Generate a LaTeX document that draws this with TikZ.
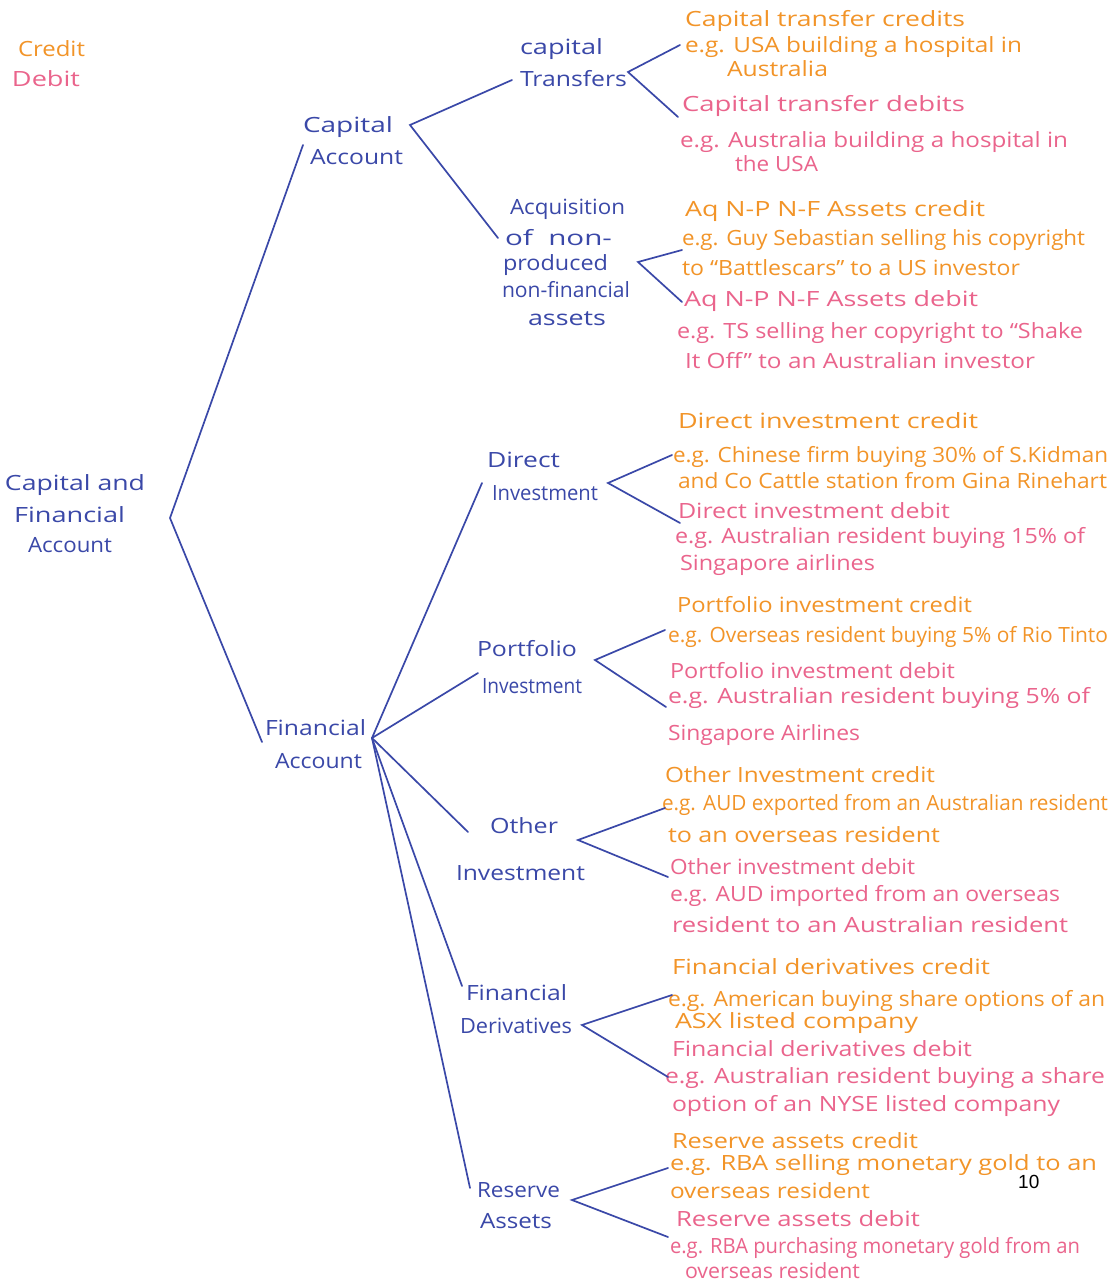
\documentclass[tikz,border=0pt]{standalone}
\usepackage{fontspec}
\usepackage{graphicx}
\setmainfont{Open Sans}
\definecolor{inkblue}{RGB}{58,72,168}
\definecolor{inkorange}{RGB}{242,148,40}
\definecolor{inkpink}{RGB}{234,100,140}
\newcommand\hw[2]{\resizebox{#1pt}{\height}{#2}}
\newcommand\lbl[6]{\node[txt,text=#4] (#1) at (#2,#3) {\hw{#5}{#6}};}
\tikzset{
  txt/.style={anchor=base west,inner sep=0pt,outer sep=0pt,font=\fontsize{21}{25}\selectfont},
  link/.style={draw=inkblue,line width=1.7pt,line cap=round}
}
\begin{document}
\begin{tikzpicture}[x=1pt,y=-1pt]
\useasboundingbox (0,0) rectangle (1113,1281);
\fill[white] (0,0) rectangle (1113,1281);
\clip (0,0) rectangle (1113,1281);
% legend
\lbl{lc}{18}{57}{inkorange}{67}{Credit}
\lbl{ld}{12}{87}{inkpink}{68}{Debit}
% blue labels
\lbl{cfa1}{5}{490}{inkblue}{140}{Capital and}
\lbl{cfa2}{14}{522}{inkblue}{111}{Financial}
\lbl{cfa3}{28}{552}{inkblue}{84}{Account}
\lbl{ca1}{303}{133}{inkblue}{90}{Capital}
\lbl{ca2}{310}{165}{inkblue}{93}{Account}
\lbl{fa1}{265}{735}{inkblue}{101}{Financial}
\lbl{fa2}{275}{768}{inkblue}{87}{Account}
\lbl{ct1}{520}{55}{inkblue}{83}{capital}
\lbl{ct2}{520}{87}{inkblue}{107}{Transfers}
\lbl{aq1}{510}{215}{inkblue}{115}{Acquisition}
\lbl{aq2}{505}{245}{inkblue}{107}{of\ \ non-}
\lbl{aq3}{503}{270}{inkblue}{105}{produced}
\lbl{aq4}{502}{297}{inkblue}{128}{non-financial}
\lbl{aq5}{528}{325}{inkblue}{78}{assets}
\lbl{di1}{487}{467}{inkblue}{73}{Direct}
\lbl{di2}{492}{500}{inkblue}{106}{Investment}
\lbl{pi1}{477}{656}{inkblue}{100}{Portfolio}
\lbl{pi2}{482}{693}{inkblue}{100}{Investment}
\lbl{oi1}{490}{833}{inkblue}{68}{Other}
\lbl{oi2}{456}{880}{inkblue}{129}{Investment}
\lbl{fd1}{466}{1000}{inkblue}{101}{Financial}
\lbl{fd2}{460}{1033}{inkblue}{112}{Derivatives}
\lbl{ra1}{477}{1197}{inkblue}{83}{Reserve}
\lbl{ra2}{480}{1228}{inkblue}{72}{Assets}
% right-hand texts
\lbl{t1}{685}{27}{inkorange}{280}{Capital transfer credits}
\lbl{t2}{685}{53}{inkorange}{337}{e.g. USA building a hospital in}
\lbl{t3}{727}{77}{inkorange}{101}{Australia}
\lbl{t4}{682}{112}{inkpink}{283}{Capital transfer debits}
\lbl{t5}{680}{148}{inkpink}{388}{e.g. Australia building a hospital in}
\lbl{t6}{735}{172}{inkpink}{83}{the USA}
\lbl{t7}{685}{217}{inkorange}{300}{Aq N-P N-F Assets credit}
\lbl{t8}{682}{245}{inkorange}{403}{e.g. Guy Sebastian selling his copyright}
\lbl{t9}{682}{275}{inkorange}{338}{to “Battlescars” to a US investor}
\lbl{t10}{684}{306}{inkpink}{294}{Aq N-P N-F Assets debit}
\lbl{t11}{677}{338}{inkpink}{406}{e.g. TS selling her copyright to “Shake}
\lbl{t12}{685}{368}{inkpink}{350}{It Off” to an Australian investor}
\lbl{t13}{678}{428}{inkorange}{300}{Direct investment credit}
\lbl{t14}{673}{462}{inkorange}{435}{e.g. Chinese firm buying 30\% of S.Kidman}
\lbl{t15}{678}{488}{inkorange}{429}{and Co Cattle station from Gina Rinehart}
\lbl{t16}{678}{518}{inkpink}{272}{Direct investment debit}
\lbl{t17}{675}{543}{inkpink}{410}{e.g. Australian resident buying 15\% of}
\lbl{t18}{680}{570}{inkpink}{195}{Singapore airlines}
\lbl{t19}{677}{612}{inkorange}{295}{Portfolio investment credit}
\lbl{t20}{668}{642}{inkorange}{440}{e.g. Overseas resident buying 5\% of Rio Tinto}
\lbl{t21}{670}{678}{inkpink}{285}{Portfolio investment debit}
\lbl{t22}{668}{703}{inkpink}{422}{e.g. Australian resident buying 5\% of}
\lbl{t23}{668}{740}{inkpink}{192}{Singapore Airlines}
\lbl{t24}{665}{782}{inkorange}{270}{Other Investment credit}
\lbl{t25}{662}{810}{inkorange}{446}{e.g. AUD exported from an Australian resident}
\lbl{t26}{668}{842}{inkorange}{272}{to an overseas resident}
\lbl{t27}{670}{874}{inkpink}{245}{Other investment debit}
\lbl{t28}{670}{901}{inkpink}{390}{e.g. AUD imported from an overseas}
\lbl{t29}{672}{932}{inkpink}{396}{resident to an Australian resident}
\lbl{t30}{672}{974}{inkorange}{318}{Financial derivatives credit}
\lbl{t31}{668}{1006}{inkorange}{437}{e.g. American buying share options of an}
\lbl{t32}{675}{1028}{inkorange}{243}{ASX listed company}
\lbl{t33}{672}{1056}{inkpink}{300}{Financial derivatives debit}
\lbl{t34}{665}{1083}{inkpink}{440}{e.g. Australian resident buying a share}
\lbl{t35}{672}{1111}{inkpink}{388}{option of an NYSE listed company}
\lbl{t36}{672}{1148}{inkorange}{246}{Reserve assets credit}
\lbl{t37}{670}{1170}{inkorange}{427}{e.g. RBA selling monetary gold to an}
\lbl{t38}{670}{1198}{inkorange}{200}{overseas resident}
\lbl{t39}{676}{1226}{inkpink}{244}{Reserve assets debit}
\lbl{t40}{670}{1253}{inkpink}{410}{e.g. RBA purchasing monetary gold from an}
\lbl{t41}{685}{1278}{inkpink}{175}{overseas resident}
\node[anchor=base west,inner sep=0pt,font=\fontsize{19}{22}\selectfont,text=black] (pg) at (1018,1188) {\setmainfont{Liberation Sans}\selectfont 10};
% fork points and ends
\coordinate (kcfa) at (170,518);
\coordinate (eca) at (303,145);
\coordinate (efa) at (262,742);
\coordinate (kca) at (410,125);
\coordinate (ect) at (512,80);
\coordinate (eaq) at (498,238);
\coordinate (kct) at (628,72);
\coordinate (ect1) at (680,45);
\coordinate (ect2) at (678,117);
\coordinate (kaq) at (638,262);
\coordinate (eaq1) at (682,250);
\coordinate (eaq2) at (682,302);
\coordinate (kfa) at (372,738);
\coordinate (edi) at (482,483);
\coordinate (epi) at (478,673);
\coordinate (eoi) at (468,832);
\coordinate (efd) at (462,986);
\coordinate (era) at (470,1188);
\coordinate (kdi) at (608,483);
\coordinate (edi1) at (672,455);
\coordinate (edi2) at (680,523);
\coordinate (kpi) at (595,660);
\coordinate (epi1) at (665,630);
\coordinate (epi2) at (666,707);
\coordinate (koi) at (578,840);
\coordinate (eoi1) at (665,808);
\coordinate (eoi2) at (668,877);
\coordinate (kfd) at (582,1025);
\coordinate (efd1) at (672,995);
\coordinate (efd2) at (668,1077);
\coordinate (kra) at (572,1200);
\coordinate (era1) at (668,1168);
\coordinate (era2) at (668,1237);
% connectors
\draw[link] (eca) -- (kcfa) -- (efa);
\draw[link] (ect) -- (kca) -- (eaq);
\draw[link] (ect1) -- (kct) -- (ect2);
\draw[link] (eaq1) -- (kaq) -- (eaq2);
\draw[link] (kfa) -- (edi);
\draw[link] (kfa) -- (epi);
\draw[link] (kfa) -- (eoi);
\draw[link] (kfa) -- (efd);
\draw[link] (kfa) -- (era);
\draw[link] (edi1) -- (kdi) -- (edi2);
\draw[link] (epi1) -- (kpi) -- (epi2);
\draw[link] (eoi1) -- (koi) -- (eoi2);
\draw[link] (efd1) -- (kfd) -- (efd2);
\draw[link] (era1) -- (kra) -- (era2);
\end{tikzpicture}
\end{document}
